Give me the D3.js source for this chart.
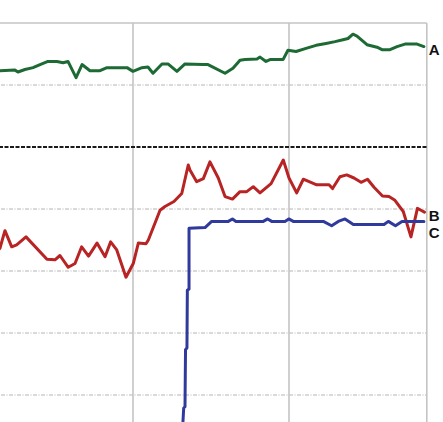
<!DOCTYPE html>
<html>
<head>
<meta charset="utf-8">
<script src="https://cdn.jsdelivr.net/npm/d3@7"></script>
<style>
  html, body { margin: 0; padding: 0; background: #ffffff; overflow: hidden; }
  svg { display: block; }
</style>
</head>
<body>
<svg id="chart" width="443" height="422"></svg>
<script>
// ---- data (x in months, y in index points) ----
const seriesNames = ["A", "B", "C"];
const seriesA = [
  [1.5,12.3],[1.77,12.3],[2.92,12.4],[3.15,12.1],[3.69,12.5],[4.31,12.8],[4.85,13.3],[5.46,13.8],[6.15,13.8],
  [6.62,13.6],[7.0,13.8],[7.62,11.2],[8.08,13.3],[8.69,12.3],[9.46,12.3],[10.0,12.8],[11.54,12.8],
  [12.0,12.2],[12.69,12.8],[13.15,12.9],[13.54,11.9],[14.23,13.4],[14.69,13.4],[15.38,12.2],[16.0,13.4],
  [17.38,13.3],[17.77,13.3],[19.08,11.9],[19.69,12.7],[20.23,14.0],[20.62,14.1],[21.54,14.2],[21.77,14.5],
  [22.23,13.8],[22.54,14.1],[23.54,14.1],[23.92,15.6],[24.54,15.4],[25.31,15.9],[26.08,16.4],[26.85,16.7],
  [27.54,17.0],[28.15,17.3],[28.54,17.5],[28.92,18.2],[29.23,17.9],[30.0,16.5],[30.77,16.1],[31.15,15.7],
  [31.77,15.7],[32.31,16.2],[32.92,16.6],[33.85,16.6],[34.38,16.2]
];
const seriesB = [
  [1.5,-17.0],[1.77,-16.3],[2.15,-13.5],[2.67,-16.1],[3.05,-15.8],[3.77,-14.5],[5.38,-18.1],[6.0,-18.2],
  [6.38,-17.5],[7.02,-19.4],[7.54,-18.8],[8.05,-16.1],[8.58,-17.6],[9.23,-15.5],[9.85,-17.7],[10.28,-15.3],
  [10.75,-16.6],[11.46,-21.0],[12.02,-18.8],[12.41,-15.5],[13.0,-15.6],[13.18,-15.0],[14.08,-10.2],
  [14.46,-9.6],[15.15,-8.8],[15.75,-7.5],[16.25,-2.9],[16.38,-3.7],[16.9,-5.6],[17.41,-5.1],[17.92,-2.4],
  [18.56,-5.0],[19.08,-8.0],[19.65,-8.4],[20.23,-7.2],[20.75,-7.2],[21.25,-6.4],[21.77,-7.4],[22.62,-5.9],
  [23.56,-2.1],[24.0,-5.0],[24.59,-7.4],[25.1,-5.2],[26.13,-6.1],[27.08,-6.1],[27.35,-6.7],[27.92,-4.8],
  [28.44,-4.5],[29.0,-5.0],[29.54,-5.7],[30.04,-5.2],[30.54,-6.5],[31.19,-7.9],[31.69,-8.0],[32.15,-8.6],
  [32.79,-10.4],[33.38,-14.5],[33.88,-9.9],[34.15,-10.2],[34.42,-10.5]
];
const seriesC = [
  [15.8,-46.0],[15.9,-42.1],[16.0,-41.9],[16.04,-32.7],[16.15,-32.4],[16.18,-23.1],[16.31,-22.9],
  [16.31,-13.1],[17.54,-13.0],[18.05,-12.0],[19.33,-12.0],[19.65,-11.6],[19.92,-12.0],[22.02,-12.0],
  [22.36,-11.6],[22.67,-12.0],[23.69,-12.0],[23.98,-11.6],[24.33,-12.0],[26.64,-12.0],[27.28,-12.7],
  [27.79,-12.0],[28.31,-11.6],[28.95,-12.5],[31.31,-12.5],[31.64,-12.0],[32.19,-12.7],[32.69,-12.0],
  [34.38,-12.0]
];
const xTicks = [12, 24];
const yTicks = [10, -10, -20, -30, -40];
const zeroLine = [0];

// ---- layout ----
const svg = d3.select("#chart");
const x = d3.scaleLinear().domain([0, 34.6]).range([-23, 426.8]);
const y = d3.scaleLinear().domain([-40, 20]).range([395, 23]);
const xMax = 34.6, yMax = 20;
const plotLeft = x(0), plotRight = x(xMax), plotTop = y(yMax), plotBottom = 440;

svg.append("defs").append("clipPath").attr("id", "clip")
  .append("rect").attr("x", plotLeft).attr("y", plotTop)
  .attr("width", plotRight - plotLeft).attr("height", plotBottom - plotTop);

// horizontal dotted gridlines
svg.append("g").selectAll("line").data(yTicks).join("line")
  .attr("x1", plotLeft).attr("x2", plotRight)
  .attr("y1", d => y(d)).attr("y2", d => y(d))
  .attr("stroke", "#b4b4b4").attr("stroke-width", 1)
  .attr("stroke-dasharray", "4,1.5,1,1.5");

// vertical gridlines
svg.append("g").selectAll("line").data(xTicks).join("line")
  .attr("x1", d => x(d)).attr("x2", d => x(d))
  .attr("y1", plotTop).attr("y2", plotBottom)
  .attr("stroke", "#c4c4c4").attr("stroke-width", 1.6);

// frame (top + right)
svg.append("line").attr("x1", plotLeft).attr("x2", plotRight)
  .attr("y1", plotTop).attr("y2", plotTop)
  .attr("stroke", "#c4c4c4").attr("stroke-width", 1.6);
svg.append("line").attr("x1", plotRight).attr("x2", plotRight)
  .attr("y1", plotTop).attr("y2", plotBottom)
  .attr("stroke", "#c4c4c4").attr("stroke-width", 1.6);

// zero line (black dashed)
svg.append("g").selectAll("line").data(zeroLine).join("line")
  .attr("x1", plotLeft).attr("x2", plotRight)
  .attr("y1", d => y(d)).attr("y2", d => y(d))
  .attr("stroke", "#1a1a1a").attr("stroke-width", 1.8)
  .attr("stroke-dasharray", "4,1.5");

const line = d3.line().x(d => x(d[0])).y(d => y(d[1]));
const seriesData = [seriesA, seriesB, seriesC];
const colors = ["#1d6a35", "#b82424", "#2f3a9c"];

const g = svg.append("g").attr("clip-path", "url(#clip)");
g.selectAll("path").data(seriesData).join("path")
  .attr("d", line)
  .attr("fill", "none")
  .attr("stroke", (d, i) => colors[i])
  .attr("stroke-width", 3)
  .attr("stroke-linejoin", "round")
  .attr("stroke-linecap", "round");

// end labels with simple collision avoidance
const labelY = seriesData.map(s => y(s[s.length - 1][1]) + 3);
const order = labelY.map((v, i) => i).sort((a, b) => labelY[a] - labelY[b]);
for (let k = 1; k < order.length; k++) {
  const prev = labelY[order[k - 1]], cur = order[k];
  if (labelY[cur] - prev < 17) labelY[cur] = prev + 17;
}
svg.append("g").selectAll("text").data(seriesNames).join("text")
  .attr("x", plotRight + 2)
  .attr("y", (d, i) => labelY[i] + 5.5)
  .attr("font-family", "Liberation Sans, Arial, sans-serif")
  .attr("font-weight", "bold")
  .attr("font-size", 15)
  .attr("fill", "#111")
  .text(d => d);
</script>
</body>
</html>
